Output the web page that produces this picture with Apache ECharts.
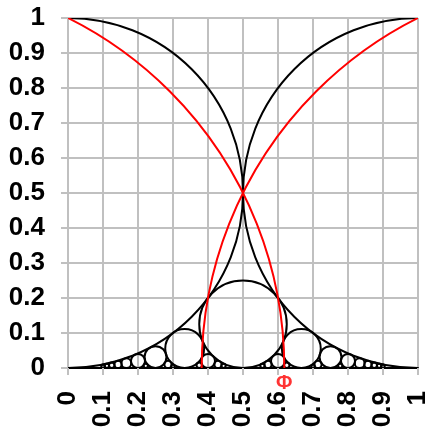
<!DOCTYPE html>
<html>
<head>
<meta charset="utf-8">
<script src="https://cdn.jsdelivr.net/npm/echarts@6/dist/echarts.min.js"></script>
<style>
html,body{margin:0;padding:0;background:#fff;}
#chart{width:438px;height:438px;}
</style>
</head>
<body>
<div id="chart"></div>
<script>
// Ford circles: fractions p/q (circle centre p/q, radius 1/(2q^2))
var fordNumerators   = [0,1,1,1,2,1,3,1,2,3,4,1,5,1,2,3,4,5,6,1,3,5,7,1,2,4,5,7,8,1,3,7,9];
var fordDenominators = [1,1,2,3,3,4,4,5,5,5,5,6,6,7,7,7,7,7,7,8,8,8,8,9,9,9,9,9,9,10,10,10,10];
// Golden-ratio circles (red)
var goldenCentreX = [-0.5, 1.5];
var goldenCentreY = [0, 0];
var goldenRadius  = [1.118034, 1.118034];
// Phi marker
var phiValue = 0.618034;
var phiLabel = 'Φ';
// axis ticks
var axisMin = 0, axisMax = 1, axisStep = 0.1;

var fordData = fordNumerators.map(function (p, i) {
  var q = fordDenominators[i];
  var r = 1 / (2 * q * q);
  return [p / q, r, r];
});
var goldenData = goldenCentreX.map(function (x, i) {
  return [x, goldenCentreY[i], goldenRadius[i]];
});

function circleRenderer(color) {
  return function (params, api) {
    var c = api.coord([api.value(0), api.value(1)]);
    var o = api.coord([0, 0]);
    var e = api.coord([api.value(2), 0]);
    var r = Math.abs(e[0] - o[0]);
    return {
      type: 'circle',
      shape: { cx: c[0], cy: c[1], r: r },
      style: { fill: 'none', stroke: color, lineWidth: 2 }
    };
  };
}

var labelFmt = function (v) { return String(+(+v).toFixed(1)); };
var gridGray = '#c0c0c0';
var font = 'Liberation Sans, Arial, sans-serif';

var chart = echarts.init(document.getElementById('chart'), null, { renderer: 'canvas' });
chart.setOption({
  animation: false,
  backgroundColor: '#fff',
  grid: { left: 68, top: 18, right: 20, bottom: 70, containLabel: false },
  xAxis: {
    type: 'value', min: axisMin, max: axisMax, interval: axisStep,
    axisLine: { show: true, onZero: false, lineStyle: { color: '#000', width: 2 } },
    axisTick: { show: true, length: 7, lineStyle: { color: gridGray, width: 2 } },
    splitLine: { show: true, lineStyle: { color: gridGray, width: 2 } },
    axisLabel: { rotate: 90, margin: 23, fontSize: 26, fontWeight: 'bold', color: '#000', fontFamily: font, formatter: labelFmt, showMinLabel: true, showMaxLabel: true }
  },
  yAxis: {
    type: 'value', min: axisMin, max: axisMax, interval: axisStep,
    axisLine: { show: true, onZero: false, lineStyle: { color: gridGray, width: 2 } },
    axisTick: { show: true, length: 7, lineStyle: { color: gridGray, width: 2 } },
    splitLine: { show: true, lineStyle: { color: gridGray, width: 2 } },
    axisLabel: { margin: 23, fontSize: 26, fontWeight: 'bold', color: '#000', fontFamily: font, formatter: labelFmt, showMinLabel: true, showMaxLabel: true }
  },
  series: [
    {
      type: 'custom', name: 'ford', clip: true, silent: true,
      renderItem: circleRenderer('#000'),
      encode: { x: 0, y: 1 },
      data: fordData, z: 3
    },
    {
      type: 'custom', name: 'golden', clip: true, silent: true,
      renderItem: circleRenderer('#ff0000'),
      encode: { x: 0, y: 1 },
      data: goldenData, z: 4
    },
    {
      type: 'scatter', name: 'phi', clip: false, silent: true,
      symbolSize: 0,
      data: [[phiValue, 0]],
      label: { show: true, position: 'bottom', distance: 5, formatter: phiLabel, color: '#ff0000', fontSize: 20, fontWeight: 'bold', fontFamily: font },
      z: 5
    }
  ]
});
</script>
</body>
</html>
